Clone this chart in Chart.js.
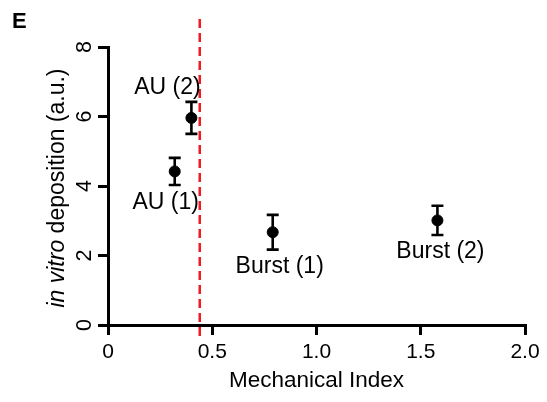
<!DOCTYPE html>
<html><head><meta charset="utf-8">
<script src="https://cdn.jsdelivr.net/npm/chart.js@4.4.1/dist/chart.umd.min.js"></script>
<style>html,body{margin:0;padding:0;background:#fff}#wrap{width:547px;height:402px}</style>
</head><body><div id="wrap"><canvas id="c" width="547" height="402"></canvas></div>
<script>
// ---- data ----
const pointNames = ['AU (1)', 'AU (2)', 'Burst (1)', 'Burst (2)'];
const mechanicalIndex = [0.32, 0.40, 0.79, 1.58];
const deposition = [4.42, 5.96, 2.67, 3.01];
const depositionErr = [0.39, 0.46, 0.50, 0.42];
const thresholdMI = 0.44;
const xTicks = [0, 0.5, 1.0, 1.5, 2.0];
const yTicks = [0, 2, 4, 6, 8];
const panelLetter = 'E';
const xTitle = 'Mechanical Index';
const yTitleItalic = 'in vitro';
const yTitleRest = ' deposition (a.u.)';

// ---- styling (label offsets in pixels from the point) ----
const labelOffsets = [[-9, 31], [-24, -30], [7, 34], [3, 31]];
const FONT = "'Liberation Sans', Arial, Helvetica, sans-serif";
Chart.defaults.font.family = FONT;
Chart.defaults.color = '#000';

const points = mechanicalIndex.map((x, i) => ({x: x, y: deposition[i]}));

const overlay = {
  id: 'overlay',
  beforeDatasetsDraw(chart) {
    const ctx = chart.ctx, xs = chart.scales.x, ys = chart.scales.y, ca = chart.chartArea;
    // threshold line
    const px = xs.getPixelForValue(thresholdMI);
    ctx.save();
    ctx.strokeStyle = '#f01a22';
    ctx.lineWidth = 2.5;
    ctx.setLineDash([9, 5]);
    ctx.beginPath();
    ctx.moveTo(px, ca.top - 28);
    ctx.lineTo(px, ca.bottom + 11);
    ctx.stroke();
    ctx.restore();
    // error bars
    ctx.save();
    ctx.strokeStyle = '#000';
    ctx.lineWidth = 2.6;
    mechanicalIndex.forEach((x, i) => {
      const cx = xs.getPixelForValue(x);
      const t = ys.getPixelForValue(deposition[i] + depositionErr[i]);
      const b = ys.getPixelForValue(deposition[i] - depositionErr[i]);
      ctx.beginPath();
      ctx.moveTo(cx, t); ctx.lineTo(cx, b);
      ctx.moveTo(cx - 6, t); ctx.lineTo(cx + 6, t);
      ctx.moveTo(cx - 6, b); ctx.lineTo(cx + 6, b);
      ctx.stroke();
    });
    ctx.restore();
  },
  afterDraw(chart) {
    const ctx = chart.ctx, xs = chart.scales.x, ys = chart.scales.y, ca = chart.chartArea;
    ctx.save();
    ctx.fillStyle = '#000';
    // point labels
    ctx.font = '23px ' + FONT;
    ctx.textAlign = 'center';
    ctx.textBaseline = 'middle';
    pointNames.forEach((name, i) => {
      const cx = xs.getPixelForValue(mechanicalIndex[i]) + labelOffsets[i][0];
      const cy = ys.getPixelForValue(deposition[i]) + labelOffsets[i][1];
      ctx.fillText(name, cx, cy);
    });
    // rotated y tick labels
    ctx.font = '21.5px ' + FONT;
    ctx.textBaseline = 'alphabetic';
    yTicks.forEach(v => {
      ctx.save();
      ctx.translate(ca.left - 17.5, ys.getPixelForValue(v));
      ctx.rotate(-Math.PI / 2);
      ctx.fillText(String(v), 0, 0);
      ctx.restore();
    });
    // y title (mixed italic)
    ctx.save();
    ctx.translate(ca.left - 44.5, (ca.top + ca.bottom) / 2 + 2);
    ctx.rotate(-Math.PI / 2);
    ctx.textAlign = 'left';
    const fi = 'italic 23px ' + FONT, fn = '23px ' + FONT;
    ctx.font = fi; const w1 = ctx.measureText(yTitleItalic).width;
    ctx.font = fn; const w2 = ctx.measureText(yTitleRest).width;
    const start = -(w1 + w2) / 2;
    ctx.font = fi; ctx.fillText(yTitleItalic, start, 0);
    ctx.font = fn; ctx.fillText(yTitleRest, start + w1, 0);
    ctx.restore();
    // panel letter
    ctx.font = 'bold 22px ' + FONT;
    ctx.textAlign = 'left';
    ctx.fillText(panelLetter, 12, 27.5);
    ctx.restore();
  }
};

new Chart(document.getElementById('c'), {
  type: 'scatter',
  data: {
    datasets: [{
      data: points,
      backgroundColor: '#000',
      borderColor: '#000',
      pointRadius: 5.5,
      pointHoverRadius: 5.5
    }]
  },
  options: {
    responsive: false,
    animation: false,
    devicePixelRatio: 1,
    layout: {padding: {left: 0, right: 22, top: 47, bottom: 0}},
    plugins: {legend: {display: false}, tooltip: {enabled: false}},
    scales: {
      x: {
        type: 'linear', min: 0, max: 2,
        afterBuildTicks: s => { s.ticks = xTicks.map(v => ({value: v})); },
        afterFit: s => { s.height = 77; },
        grid: {drawOnChartArea: false, drawTicks: true, tickLength: 10, lineWidth: 3, color: '#000'},
        border: {display: true, width: 3, color: '#000'},
        ticks: {
          padding: 5, color: '#000', font: {size: 21}, maxRotation: 0,
          callback: v => (v === 0 ? '0' : v.toFixed(1))
        },
        title: {display: true, text: xTitle, color: '#000', font: {size: 22.5}, padding: {top: 0, bottom: 8}}
      },
      y: {
        type: 'linear', min: 0, max: 8,
        afterBuildTicks: s => { s.ticks = yTicks.map(v => ({value: v})); },
        afterFit: s => { s.width = 108; },
        grid: {drawOnChartArea: false, drawTicks: true, tickLength: 10, lineWidth: 3, color: '#000'},
        border: {display: true, width: 3, color: '#000'},
        ticks: {display: false}
      }
    }
  },
  plugins: [overlay]
});
</script>
</body></html>
